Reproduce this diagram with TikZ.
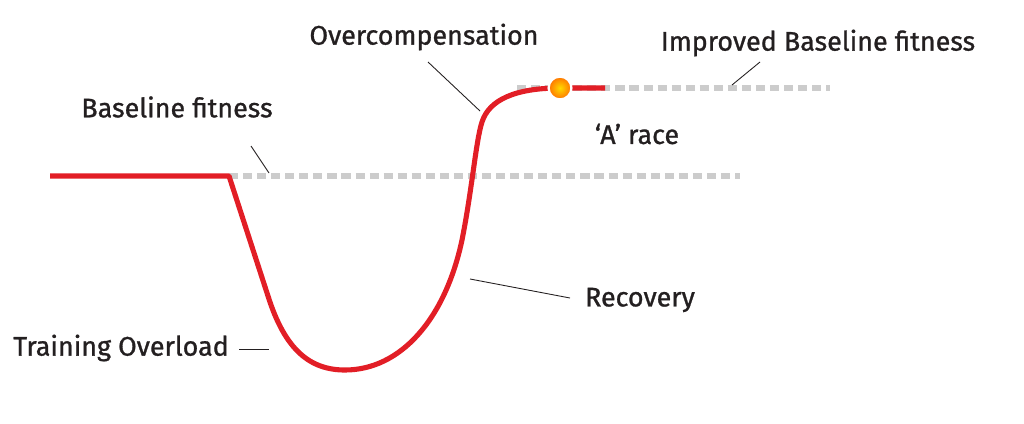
\documentclass[tikz,border=0pt]{standalone}
\usepackage{fontspec}
\setmainfont{Fira Sans}
\newfontfamily\tagfont{Fira Sans}[FakeBold=1,Ligatures=TeX]
\usepackage{tikz}
\usetikzlibrary{arrows,shapes}
\definecolor{fitred}{RGB}{226,30,38}
\definecolor{fitgray}{RGB}{204,204,204}
\definecolor{ink}{RGB}{35,31,32}
\tikzstyle{tag}=[text=ink,inner sep=0pt,font=\fontsize{15.3}{18}\tagfont]
\tikzstyle{leader} = [draw,ink,line width=0.5pt,-]
\tikzstyle{level} = [draw,fitgray,line width=3.4pt,dash pattern=on 5.2pt off 2.8pt]
\tikzstyle{curve} = [draw,fitred,line width=2.9pt,line join=round]
\tikzstyle{dot}=[circle,draw=white,line width=1.3pt,minimum size=13pt,inner sep=0pt,inner color=yellow!70!orange,outer color=orange!90!red]

\begin{document}
\begin{tikzpicture}[x=0.02cm,y=-0.02cm]
    \useasboundingbox (0,0) rectangle (1024,423);
    % Labels first
    \foreach \pos/\name/\txt in {{(424,37)/over/Overcompensation}, {(818,43)/impr/Improved Baseline fitness},
        {(177,107)/base/Baseline fitness}, {(637,134)/arace/‘A’ race}, {(640,300)/recov/Recovery},
        {(121,348)/load/Training Overload}}
        \node[tag] (\name) at \pos {\txt};

    % Fitness levels
    \coordinate (b0) at (50,176);
    \coordinate (b1) at (229,176);
    \coordinate (b2) at (740,176);
    \coordinate (i0) at (517,88);
    \coordinate (i1) at (830,88);
    \path[level] (b1) -- (b2);
    \path[level] (i0) -- (i1);

    % The training curve
    \path[curve] (b0) -- (b1) -- (268,296) .. controls (285,350) and (310,370) .. (345,370)
        .. controls (400,370) and (445,320) .. (462,240)
        .. controls (472,190) and (476,140) .. (482,122)
        .. controls (489,100) and (515,88) .. (560,88) -- (605,88);
    \node[dot] (race) at (560,88) {};

    % Leader lines
    \foreach \s/\d/\source/\dest in {{(428,62)/(480,111)/o1/o2}, {(760,62)/(732,85)/m1/m2},
        {(251,146)/(269,173)/f1/f2}, {(470,279)/(570,298)/r1/r2}, {(239,349)/(269,349)/t1/t2}}
        \path[leader] \s coordinate (\source) -- \d coordinate (\dest);
\end{tikzpicture}
\end{document}
